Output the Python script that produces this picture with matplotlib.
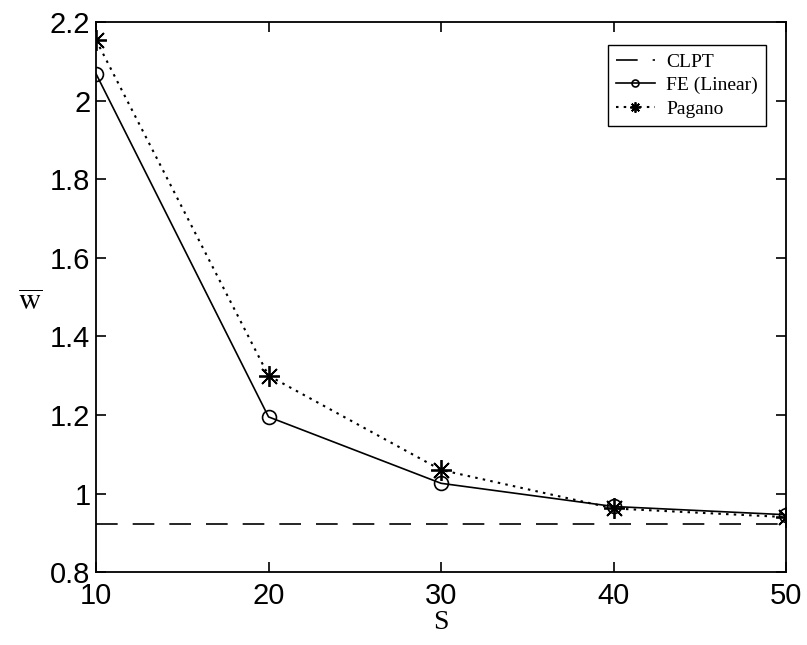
import matplotlib
matplotlib.use("Agg")
import matplotlib.pyplot as plt

# data
s_values = [10, 20, 30, 40, 50]
clpt = [0.922, 0.922, 0.922, 0.922, 0.922]
fe_linear = [2.068, 1.195, 1.026, 0.967, 0.946]
pagano = [2.154, 1.300, 1.060, 0.962, 0.940]

y_ticks = [0.8, 1.0, 1.2, 1.4, 1.6, 1.8, 2.0, 2.2]
y_tick_labels = ["0.8", "1", "1.2", "1.4", "1.6", "1.8", "2", "2.2"]
x_ticks = [10, 20, 30, 40, 50]


def main():
    plt.rcParams["mathtext.fontset"] = "stix"
    fig = plt.figure(figsize=(8.07, 6.45), dpi=100)
    ax = fig.add_axes([0.119, 0.113, 0.855, 0.853])

    ax.plot(s_values, clpt, color="black", linewidth=1.2,
            dashes=(13, 9), label="CLPT")
    ax.plot(s_values, fe_linear, color="black", linewidth=1.2,
            marker="o", markersize=10, markerfacecolor="none",
            markeredgewidth=1.2, label="FE (Linear)")
    ax.plot(s_values, pagano, color="black", linewidth=1.5,
            linestyle=(0, (1.2, 2.5)), marker=(8, 2, 0), markersize=15,
            markeredgewidth=1.3, label="Pagano")

    ax.set_xlim(10, 50)
    ax.set_ylim(0.8, 2.2)
    ax.set_xticks(x_ticks)
    ax.set_xticklabels([str(v) for v in x_ticks])
    ax.set_yticks(y_ticks)
    ax.set_yticklabels(y_tick_labels)

    ax.tick_params(direction="in", length=7, width=1.2,
                   top=True, right=True, pad=4)
    ax.tick_params(axis="x", pad=7)
    for lbl in ax.get_xticklabels() + ax.get_yticklabels():
        lbl.set_fontfamily("Liberation Sans")
        lbl.set_fontsize(21)
    for sp in ax.spines.values():
        sp.set_linewidth(1.3)

    ax.set_xlabel("S", family="Liberation Serif", fontsize=20, labelpad=0)
    ax.set_ylabel(r"$\overline{\mathrm{w}}$", fontsize=22, rotation=0,
                  va="center")
    ax.yaxis.set_label_coords(-0.095, 0.49)

    leg = ax.legend(loc="upper right", bbox_to_anchor=(0.985, 0.975),
                    prop={"family": "Liberation Serif", "size": 14},
                    handlelength=2.0, handletextpad=0.6, borderpad=0.4,
                    labelspacing=0.3, fancybox=False, framealpha=1,
                    edgecolor="black", markerscale=0.5)
    leg.get_frame().set_linewidth(1.0)

    fig.savefig("out.png", dpi=100)


if __name__ == "__main__":
    main()
